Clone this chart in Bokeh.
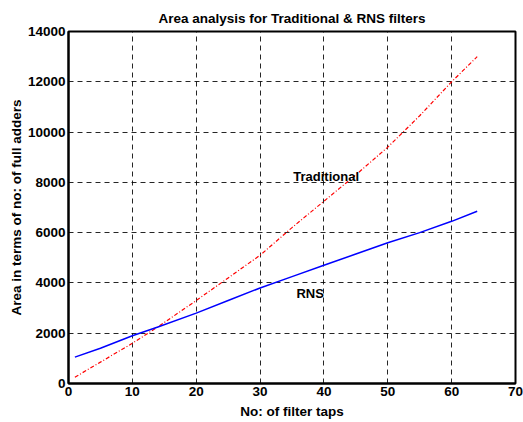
from bokeh.plotting import figure
from bokeh.models import FixedTicker, Range1d
from bokeh.core.properties import value
from bokeh.embed import file_html
from bokeh.resources import INLINE

taps = [1, 5, 10, 14, 20, 25, 30, 35, 40, 45, 50, 55, 60, 64]
traditional = [250, 850, 1600, 2250, 3300, 4200, 5100, 6200, 7250, 8300, 9400, 10650, 12000, 13000]
rns = [1050, 1400, 1900, 2250, 2800, 3300, 3800, 4250, 4700, 5150, 5600, 6000, 6450, 6850]
x_ticks = [0, 10, 20, 30, 40, 50, 60, 70]
y_ticks = [0, 2000, 4000, 6000, 8000, 10000, 12000, 14000]
label_names = ["Traditional", "RNS"]
label_x = [35.2, 35.7]
label_y = [8230, 3590]

FONT = "Liberation Sans"

p = figure(width=523, height=422, output_backend="svg", toolbar_location=None,
           x_range=Range1d(0, 70), y_range=Range1d(0, 14000),
           title="Area analysis for Traditional & RNS filters",
           min_border_left=68, min_border_right=8, min_border_top=31, min_border_bottom=39)
p.title.align = "center"
p.title.text_font = FONT
p.title.text_font_size = "13.5px"
p.title.text_font_style = "bold"
p.title.text_color = "black"
p.title.offset = 0
p.title.standoff = 12

p.xaxis.ticker = FixedTicker(ticks=x_ticks)
p.yaxis.ticker = FixedTicker(ticks=y_ticks)
p.xaxis.axis_label = "No: of filter taps"
p.yaxis.axis_label = "Area in terms of no: of full adders"
for ax in (p.xaxis, p.yaxis):
    ax.axis_label_text_font = FONT
    ax.axis_label_text_font_size = "13.5px"
    ax.axis_label_text_font_style = "bold"
    ax.axis_label_text_color = "black"
    ax.major_label_text_font = FONT
    ax.major_label_text_font_size = "13.5px"
    ax.major_label_text_font_style = "bold"
    ax.major_label_text_color = "black"
    ax.major_tick_in = 0
    ax.major_tick_out = 0
    ax.minor_tick_line_color = None
    ax.axis_line_color = "black"
    ax.axis_line_width = 2
    ax.major_label_standoff = 3
p.xaxis.axis_label_standoff = 5
p.yaxis.axis_label_standoff = 1

p.outline_line_color = "black"
p.outline_line_width = 2
p.outline_line_alpha = 1

for g in (p.xgrid, p.ygrid):
    g.grid_line_color = "black"
    g.grid_line_dash = "5 4"
    g.grid_line_width = 1
    g.grid_line_alpha = 0.85

p.line(taps, traditional, line_color="red", line_width=1.2, line_dash="4 2 1 2")
p.line(taps, rns, line_color="blue", line_width=1.5)

p.text(x=label_x, y=label_y, text=label_names, text_font=value(FONT),
       text_font_size="13px", text_font_style="bold", text_color="black",
       text_baseline="middle", text_align="left")

open("out.html", "w").write(file_html(p, INLINE))
